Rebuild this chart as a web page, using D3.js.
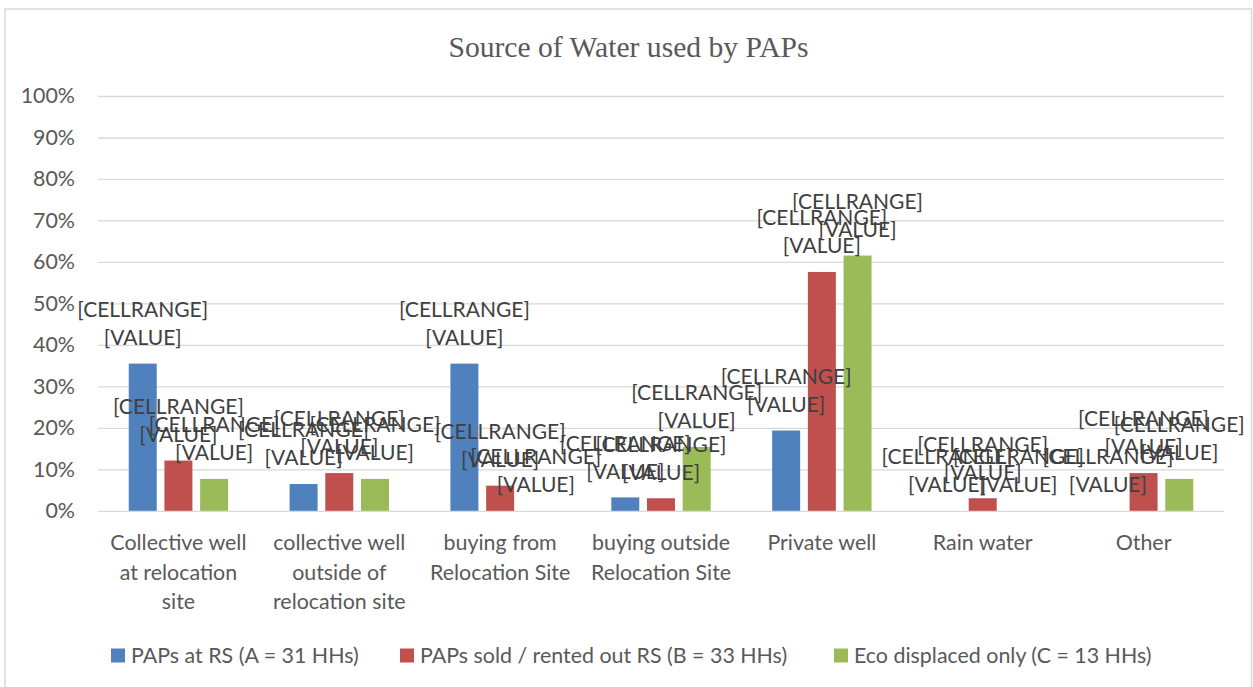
<!DOCTYPE html>
<html>
<head>
<meta charset="utf-8">
<script src="https://cdn.jsdelivr.net/npm/d3@7/dist/d3.min.js"></script>
<style>
  html, body { margin: 0; padding: 0; background: #fff; }
  svg { display: block; }
</style>
</head>
<body>
<svg id="chart" width="1253" height="687"></svg>
<script>
// ---- data ----
const categories = [
  "Collective well at relocation site",
  "collective well outside of relocation site",
  "buying from Relocation Site",
  "buying outside Relocation Site",
  "Private well",
  "Rain water",
  "Other"
];
const categoryLines = [
  ["Collective well", "at relocation", "site"],
  ["collective well", "outside of", "relocation site"],
  ["buying from", "Relocation Site"],
  ["buying outside", "Relocation Site"],
  ["Private well"],
  ["Rain water"],
  ["Other"]
];
const seriesNames = [
  "PAPs at RS (A = 31 HHs)",
  "PAPs sold / rented out RS (B = 33 HHs)",
  "Eco displaced only (C = 13 HHs)"
];
const seriesA = [0.3548, 0.0645, 0.3548, 0.0323, 0.1935, 0, 0];
const seriesB = [0.1212, 0.0909, 0.0606, 0.0303, 0.5758, 0.0303, 0.0909];
const seriesC = [0.0769, 0.0769, 0, 0.1538, 0.6154, 0, 0.0769];
const yTicks = [0, 0.1, 0.2, 0.3, 0.4, 0.5, 0.6, 0.7, 0.8, 0.9, 1.0];
const colors = ["#4F81BD", "#C0504D", "#9BBB59"];
const title = "Source of Water used by PAPs";

const allSeries = [seriesA, seriesB, seriesC];

// ---- layout ----
const svg = d3.select("#chart");
const plot = { left: 98, right: 1224, top: 96, bottom: 510.8 };
const sansFont = "Lato, 'Open Sans', sans-serif";
const fs = 21;
const fsText = 21.4;

// chart border
svg.append("rect")
  .attr("x", 5).attr("y", 9)
  .attr("width", 1246.5).attr("height", 700)
  .attr("fill", "none")
  .attr("stroke", "#D9D9D9")
  .attr("stroke-width", 1.5);

// title
svg.append("text")
  .attr("x", 628.5).attr("y", 56.5)
  .attr("text-anchor", "middle")
  .attr("font-family", "'Liberation Serif', 'Times New Roman', serif")
  .attr("font-size", 29.6)
  .attr("fill", "#595959")
  .text(title);

const x0 = d3.scaleBand().domain(categories).range([plot.left, plot.right]).paddingInner(0).paddingOuter(0);
const groupW = 107.1;
const x1 = d3.scaleBand().domain(d3.range(3)).range([-groupW / 2, groupW / 2]).paddingInner(0.216).paddingOuter(0.108);
const y = d3.scaleLinear().domain([0, 1]).range([plot.bottom, plot.top]);

// gridlines + y axis
const yAxis = d3.axisLeft(y)
  .tickValues(yTicks)
  .tickFormat(d3.format(".0%"))
  .tickSize(-(plot.right - plot.left))
  .tickPadding(23);
const gy = svg.append("g")
  .attr("transform", `translate(${plot.left},0)`)
  .call(yAxis);
gy.select(".domain").remove();
gy.selectAll(".tick line").attr("stroke", "#D9D9D9").attr("stroke-width", 1.3);
gy.selectAll(".tick text")
  .attr("font-family", sansFont)
  .attr("font-size", fsText)
  .attr("fill", "#595959");

// bars
const barData = [];
categories.forEach((c, ci) => {
  allSeries.forEach((s, si) => {
    barData.push({ c, ci, si, v: s[ci] });
  });
});
const cx = d => x0(d.c) + x0.bandwidth() / 2 + x1(d.si) + x1.bandwidth() / 2;

svg.append("g").selectAll("rect")
  .data(barData.filter(d => d.v > 0))
  .join("rect")
  .attr("x", d => x0(d.c) + x0.bandwidth() / 2 + x1(d.si))
  .attr("y", d => y(d.v))
  .attr("width", x1.bandwidth())
  .attr("height", d => y(0) - y(d.v))
  .attr("fill", d => colors[d.si]);

// data labels
const lg = svg.append("g")
  .attr("font-family", sansFont)
  .attr("font-size", fs)
  .attr("fill", "#404040")
  .attr("text-anchor", "middle");
const ordered = barData.slice().sort((a, b) => a.si - b.si || a.ci - b.ci);
ordered.forEach(d => {
  lg.append("text").attr("x", cx(d)).attr("y", y(d.v) - 54).attr("dy", "0.35em").text("[CELLRANGE]");
  lg.append("text").attr("x", cx(d)).attr("y", y(d.v) - 26).attr("dy", "0.35em").text("[VALUE]");
});

// category labels
const cg = svg.append("g")
  .attr("font-family", sansFont)
  .attr("font-size", fsText)
  .attr("fill", "#595959")
  .attr("text-anchor", "middle");
categories.forEach((c, ci) => {
  categoryLines[ci].forEach((line, li) => {
    cg.append("text")
      .attr("x", x0(c) + x0.bandwidth() / 2)
      .attr("y", 543 + li * 29.5)
      .attr("dy", "0.35em")
      .text(line);
  });
});

// legend
const legendX = [111, 400, 834];
const leg = svg.append("g");
seriesNames.forEach((name, i) => {
  leg.append("rect")
    .attr("x", legendX[i]).attr("y", 648.5)
    .attr("width", 14).attr("height", 14)
    .attr("fill", colors[i]);
  leg.append("text")
    .attr("x", legendX[i] + 20).attr("y", 655.5)
    .attr("dy", "0.35em")
    .attr("font-family", sansFont)
    .attr("font-size", fsText)
    .attr("fill", "#595959")
    .text(name);
});
</script>
</body>
</html>
